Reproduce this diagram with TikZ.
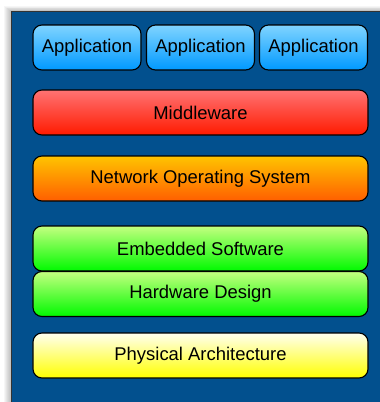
\documentclass[tikz,border=0pt]{standalone}
\usepackage{fontspec}
\setmainfont{Liberation Sans}
\begin{document}
\begin{tikzpicture}[x=1bp,y=-1bp,
  layer/.style={draw=black,line width=1.1bp,rounded corners=9bp,
    inner sep=0pt,font=\fontsize{18.5}{21}\selectfont,text=black},
  appbox/.style={layer,top color=appTop,bottom color=appBot},
  midbox/.style={layer,top color=midTop,bottom color=midBot},
  nosbox/.style={layer,top color=nosTop,bottom color=nosBot},
  hwbox/.style={layer,top color=hwTop,bottom color=hwBot},
  phybox/.style={layer,top color=phyTop,bottom color=phyBot}]
\definecolor{panel}{HTML}{02508E}
\definecolor{appTop}{HTML}{80D4FF}
\definecolor{appBot}{HTML}{0099FF}
\definecolor{midTop}{HTML}{FF7373}
\definecolor{midBot}{HTML}{FF1A00}
\definecolor{nosTop}{HTML}{FFC400}
\definecolor{nosBot}{HTML}{FF5E00}
\definecolor{hwTop}{HTML}{C4FF80}
\definecolor{hwBot}{HTML}{00FA00}
\definecolor{phyTop}{HTML}{FFFFF0}
\definecolor{phyBot}{HTML}{FFFF00}
\useasboundingbox (0,0) rectangle (380,402);
\fill[white] (-5,-5) rectangle (400,420);
% soft shadow around the panel
\foreach \i in {1,...,7}
  \fill[black,opacity=0.035] (11-\i,11-0.7*\i) rectangle (420,420);
% panel, running off the right and bottom edges
\fill[panel,draw=black!80,line width=1bp] (11,11) rectangle (420,420);
% application layer
\node[appbox,minimum width=108bp,minimum height=45bp] (app1) at (87,47.5) {Application};
\node[appbox,minimum width=108bp,minimum height=45bp] (app2) at (200.5,47.5) {Application};
\node[appbox,minimum width=108bp,minimum height=45bp] (app3) at (313.5,47.5) {Application};
% lower layers
\node[midbox,minimum width=335bp,minimum height=45bp] (mid) at (200.5,112.5) {Middleware};
\node[nosbox,minimum width=335bp,minimum height=45bp] (nos) at (200.5,178.5) {Network Operating System};
\node[hwbox,minimum width=335bp,minimum height=45bp] (emb) at (200.5,248.5) {Embedded Software};
\node[hwbox,minimum width=335bp,minimum height=45bp] (hw) at (200.5,294) {Hardware Design};
\node[phybox,minimum width=335bp,minimum height=45bp] (phy) at (200.5,355.5) {Physical Architecture};
\end{tikzpicture}
\end{document}
